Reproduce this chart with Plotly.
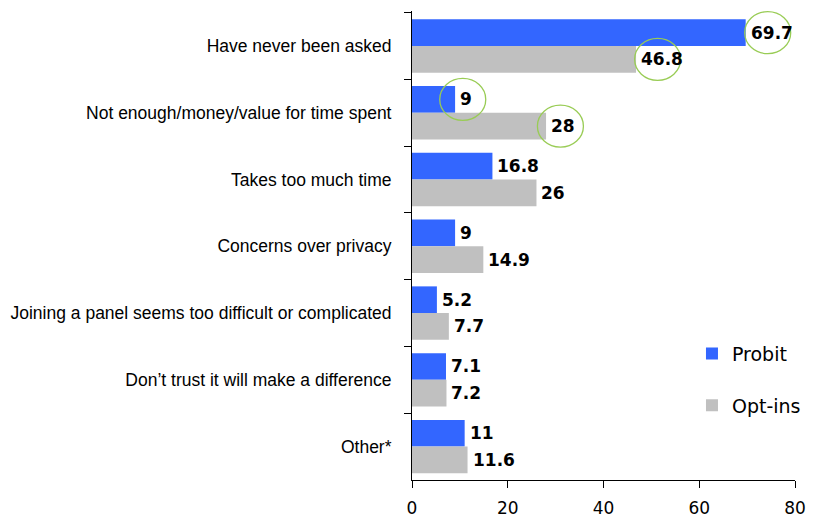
import plotly.graph_objects as go

categories = [
    "Have never been asked",
    "Not enough/money/value for time spent",
    "Takes too much time",
    "Concerns over privacy",
    "Joining a panel seems too difficult or complicated",
    "Don\u2019t trust it will make a difference",
    "Other*",
]
probit = [69.7, 9, 16.8, 9, 5.2, 7.1, 11]
optins = [46.8, 28, 26, 14.9, 7.7, 7.2, 11.6]
x_ticks = [0, 20, 40, 60, 80]

# highlighted labels: (series index, category index, x offset of circle centre)
highlights = [(0, 0, 4.6), (1, 0, 4.5), (0, 1, 1.6), (1, 1, 3.0)]

LABEL_FONT = "Liberation Sans, Arial, sans-serif"
NUM_FONT = "DejaVu Sans, sans-serif"
BAR_OFF = 0.2

fig = go.Figure()
fig.add_trace(go.Bar(
    y=categories, x=probit, orientation="h", name="Probit",
    marker=dict(color="#3366FF", line=dict(width=0)), legendgroup="a",
))
fig.add_trace(go.Bar(
    y=categories, x=optins, orientation="h", name="Opt-ins",
    marker=dict(color="#C0C0C0", line=dict(width=0)), legendgroup="b",
))

series = [probit, optins]
for s, vals in enumerate(series):
    for c, v in enumerate(vals):
        fig.add_annotation(
            x=v, y=c + (-BAR_OFF if s == 0 else BAR_OFF), xref="x", yref="y",
            text=f"<b>{v:g}</b>", showarrow=False, xanchor="left", yanchor="middle",
            xshift=3, font=dict(family=NUM_FONT, size=17, color="black"),
        )

for s, c, off in highlights:
    yc = c + (-BAR_OFF if s == 0 else BAR_OFF)
    xc = series[s][c] + off
    fig.add_shape(type="circle", xref="x", yref="y",
                  xsizemode="pixel", ysizemode="pixel",
                  xanchor=xc, yanchor=yc,
                  x0=-23, x1=23, y0=-21, y1=21,
                  line=dict(color="#99CC55", width=1.3))

fig.update_layout(
    width=817, height=519,
    margin=dict(l=412, r=11, t=11, b=39),
    paper_bgcolor="white", plot_bgcolor="white",
    barmode="group", bargap=0.2, bargroupgap=0,
    font=dict(family=LABEL_FONT, size=17, color="black"),
    showlegend=True,
    legend=dict(x=0.731, y=0.31, xanchor="left", yanchor="top",
                font=dict(family=NUM_FONT, size=19, color="black"),
                tracegroupgap=24, bgcolor="rgba(0,0,0,0)"),
    xaxis=dict(range=[0, 80], tickvals=x_ticks, showgrid=False, zeroline=False,
               showline=True, linecolor="black", linewidth=1,
               ticks="outside", ticklen=7, tickcolor="black",
               ticklabelstandoff=6, automargin=False,
               tickfont=dict(family=NUM_FONT, size=17)),
    yaxis=dict(autorange="reversed", showgrid=False, zeroline=False,
               showline=True, linecolor="black", linewidth=1,
               ticks="outside", ticklen=7, tickcolor="black", tickson="boundaries",
               ticklabelstandoff=16, automargin=False,
               tickfont=dict(family=LABEL_FONT, size=17.5)),
)

fig.write_html("out.html")
